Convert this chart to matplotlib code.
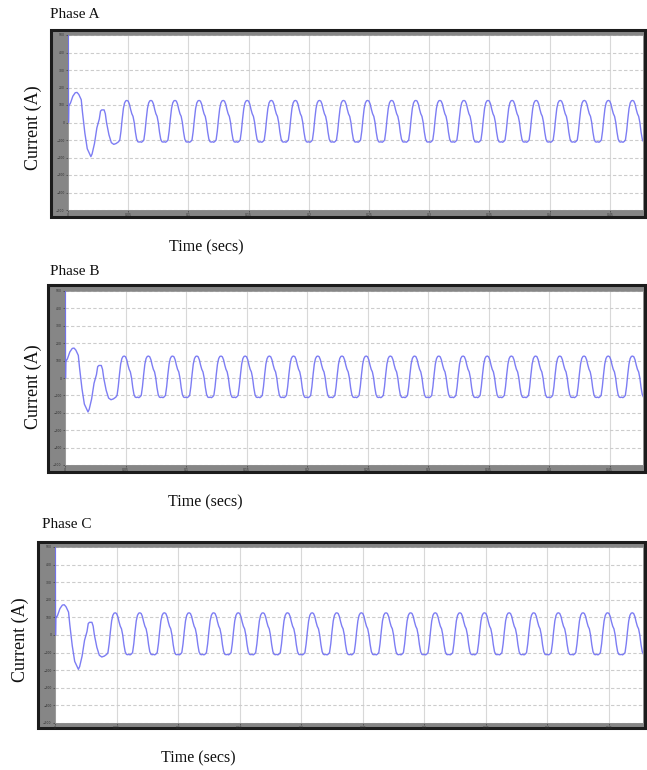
import numpy as np
import matplotlib
matplotlib.use("Agg")
import matplotlib.pyplot as plt
from matplotlib.patches import Rectangle

# ---------------- data ----------------
phases = ["Phase A", "Phase B", "Phase C"]
y_label = "Current (A)"
x_label = "Time (secs)"

# start-up transient (time s, current A)
transient_t = [0.0003, 0.0004, 0.0006, 0.002, 0.004, 0.006, 0.0075, 0.009, 0.011,
               0.012, 0.014, 0.016, 0.018, 0.019, 0.020, 0.022, 0.024, 0.026,
               0.027, 0.028, 0.030, 0.031, 0.032, 0.034, 0.036, 0.038, 0.040, 0.042]
transient_i = [500, 0, 95, 110, 150, 170, 172, 160, 130,
               60, -60, -150, -180, -195, -180, -120, -30, 20,
               65, 72, 72, 50, 0, -70, -115, -125, -120, -110]

cycle_start = 0.043
cycle_step = 0.001
cycle_i = [-100, -50, 20, 80, 112, 124, 126, 122, 105, 75,
           50, 35, 0, -55, -95, -110, -112, -110, -113, -108]
n_cycles = 22

x_ticks = [0, 0.05, 0.1, 0.15, 0.2, 0.25, 0.3, 0.35, 0.4, 0.45]
x_tick_labels = ["0", "0.05", "0.1", "0.15", "0.2", "0.25", "0.3", "0.35", "0.4", "0.45"]
y_ticks = [-500, -400, -300, -200, -100, 0, 100, 200, 300, 400, 500]
x_max = 0.4776

# ---------------- build series ----------------
steady_t = []
steady_i = []
for k in range(n_cycles):
    for j, v in enumerate(cycle_i):
        steady_t.append(cycle_start + (k * len(cycle_i) + j) * cycle_step)
        steady_i.append(v)
t_all = np.array(transient_t + steady_t)
i_all = np.array(transient_i + steady_i)

# ---------------- layout (pixels) ----------------
W, H = 647, 770
fig = plt.figure(figsize=(W / 100, H / 100), dpi=100)
fig.patch.set_facecolor("white")

# (plot left, plot right, plot top, plot bottom), frame (l, r, t, b)
plot_boxes = [(68, 643, 35, 210), (65, 643, 291, 465), (55, 643, 547, 723)]
frame_boxes = [(51, 645, 30, 217), (48, 645, 285, 472), (38, 645, 542, 728)]
title_pos = [(50, 15), (50, 271), (42, 525)]
ylabel_pos = [(33, 128), (33, 387), (20, 640)]
xlabel_pos = [(206, 247), (205, 502), (198, 758)]

serif = ["Liberation Serif", "DejaVu Serif"]

for idx, name in enumerate(phases):
    fl, fr, ft, fb = frame_boxes[idx]
    rect = Rectangle((fl / W, 1 - fb / H), (fr - fl) / W, (fb - ft) / H,
                     transform=fig.transFigure, facecolor="#868686",
                     edgecolor="#1c1c1c", linewidth=2.2, zorder=-10)
    fig.patches.append(rect)

    pl, pr, pt, pb = plot_boxes[idx]
    ax = fig.add_axes([pl / W, 1 - pb / H, (pr - pl) / W, (pb - pt) / H])
    ax.set_zorder(5)
    ax.set_facecolor("white")
    ax.plot(t_all, i_all, color="#6f6ff2", lw=1.0, alpha=0.9, zorder=3)
    ax.set_xlim(0, x_max)
    ax.set_ylim(-500, 500)
    ax.set_xticks(x_ticks)
    ax.set_xticklabels(x_tick_labels)
    ax.set_yticks(y_ticks)
    ax.tick_params(labelsize=2.2, length=1.5, pad=1, colors="#303030",
                   width=0.4)
    ax.xaxis.grid(True, color="#d8d8d8", lw=0.8, ls="-")
    ax.yaxis.grid(True, color="#cccccc", lw=0.8, ls=(0, (3, 2)))
    ax.set_axisbelow(True)
    for s in ax.spines.values():
        s.set_color("#909090")
        s.set_linewidth(0.6)

    tx, ty = title_pos[idx]
    fig.text(tx / W, 1 - ty / H, name, family=serif, fontsize=11,
             ha="left", va="center", color="#111111")
    yx, yy = ylabel_pos[idx]
    fig.text(yx / W, 1 - yy / H, y_label, family=serif, fontsize=13,
             rotation=90, ha="center", va="center", color="#111111")
    xx, xy = xlabel_pos[idx]
    fig.text(xx / W, 1 - xy / H, x_label, family=serif, fontsize=11.5,
             ha="center", va="center", color="#111111")

fig.savefig("out.png", dpi=100, facecolor="white")
